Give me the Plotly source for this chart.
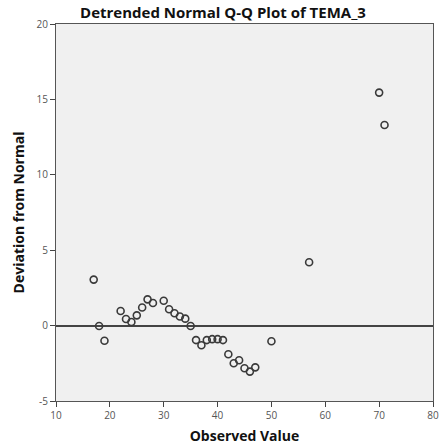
import plotly.graph_objects as go

# Observed values and their deviation from the normal expectation
observed = [17, 18, 19, 22, 23, 24, 25, 26, 27, 28, 30, 31, 32, 33, 34, 35,
            36, 37, 38, 39, 40, 41, 42, 43, 44, 45, 46, 47, 50, 57, 70, 71]
deviation = [3.05, -0.03, -1.0, 0.97, 0.44, 0.24, 0.68, 1.2, 1.74, 1.5, 1.65,
             1.08, 0.82, 0.6, 0.46, -0.03, -0.96, -1.3, -0.96, -0.9, -0.9,
             -0.96, -1.9, -2.5, -2.3, -2.83, -3.05, -2.77, -1.04, 4.2, 15.45, 13.3]

x_ticks = [10, 20, 30, 40, 50, 60, 70, 80]
y_ticks = [-5, 0, 5, 10, 15, 20]

fig = go.Figure()
fig.add_trace(go.Scatter(
    x=observed, y=deviation, mode="markers",
    marker=dict(symbol="circle-open", size=7, color="#3a3a3a",
                line=dict(width=1.6, color="#3a3a3a")),
    showlegend=False, hoverinfo="x+y",
))

axis_font = dict(family="Open Sans, DejaVu Sans, sans-serif", size=10, color="#555555")
title_font = dict(family="Open Sans, DejaVu Sans, sans-serif", size=14, color="#111111")

fig.update_layout(
    width=446, height=448,
    margin=dict(l=56, r=13, t=24, b=47),
    paper_bgcolor="white", plot_bgcolor="#f0f0f0",
    title=dict(text="<b>Detrended Normal Q-Q Plot of TEMA_3</b>",
               x=0.5, xanchor="center", y=0.972, yanchor="middle",
               font=dict(family="Open Sans, DejaVu Sans, sans-serif", size=15, color="#111111")),
    xaxis=dict(range=[10, 80], tickvals=x_ticks, ticktext=[str(v) for v in x_ticks],
               showgrid=False, zeroline=False, showline=True, linecolor="#555555",
               linewidth=1.2, mirror=True, ticks="outside", ticklen=5, tickwidth=1.2,
               tickcolor="#444444", tickfont=axis_font, automargin=False,
               title=dict(text="<b>Observed Value</b>", font=title_font, standoff=10)),
    yaxis=dict(range=[-5, 20], tickvals=y_ticks, ticktext=[str(v) for v in y_ticks],
               showgrid=False, zeroline=True, zerolinecolor="#444444", zerolinewidth=1.6,
               showline=True, linecolor="#555555", linewidth=1.2, mirror=True,
               ticks="outside", ticklen=5, tickwidth=1.2, tickcolor="#444444",
               tickfont=axis_font, automargin=False,
               title=dict(text="<b>Deviation from Normal</b>", font=title_font, standoff=8)),
)

fig.write_html("out.html")
